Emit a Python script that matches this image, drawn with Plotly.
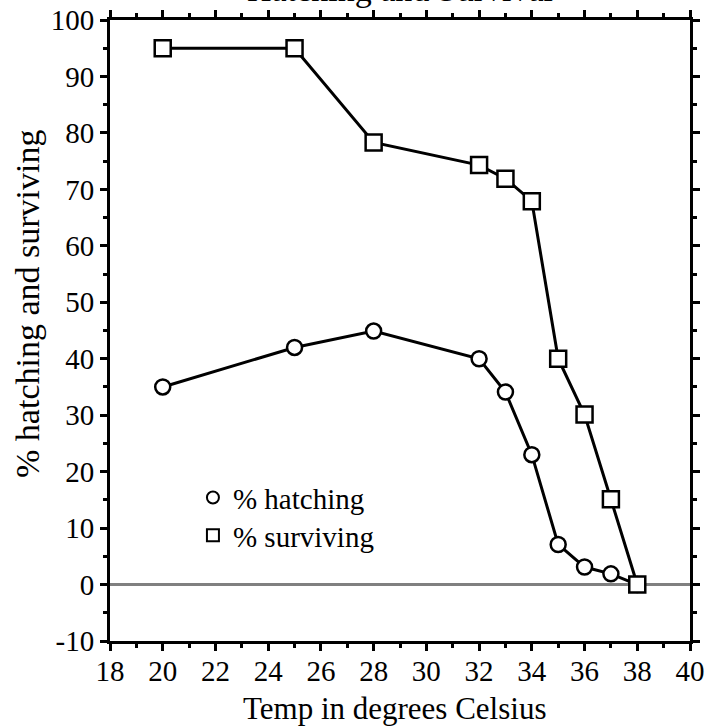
import plotly.graph_objects as go

# Incubation temperature (degrees Celsius)
temps = [20, 25, 28, 32, 33, 34, 35, 36, 37, 38]

# Percentage of eggs hatching at each temperature
pct_hatching = [35.0, 42.0, 44.9, 40.0, 34.1, 23.0, 7.1, 3.1, 1.9, 0.0]

# Percentage of hatchlings surviving at each temperature
pct_surviving = [95.0, 95.0, 78.3, 74.3, 71.9, 67.9, 40.0, 30.1, 15.1, 0.0]

x_ticks = list(range(18, 41, 2))
y_ticks = list(range(-10, 101, 10))

FONT = "Liberation Serif, DejaVu Serif, serif"
BLACK = "#000000"

fig = go.Figure()

# Zero reference line
fig.add_trace(go.Scatter(
    x=[18, 40], y=[0, 0], mode="lines",
    line=dict(color="#808080", width=3),
    showlegend=False, hoverinfo="skip",
))

fig.add_trace(go.Scatter(
    x=temps, y=pct_hatching, mode="lines+markers",
    line=dict(color=BLACK, width=3),
    marker=dict(symbol="circle", size=15, color="white",
                line=dict(color=BLACK, width=2.5)),
    showlegend=False,
))

fig.add_trace(go.Scatter(
    x=temps, y=pct_surviving, mode="lines+markers",
    line=dict(color=BLACK, width=3),
    marker=dict(symbol="square", size=16, color="white",
                line=dict(color=BLACK, width=2.5)),
    showlegend=False,
))

# Legend entries (marker only), one legend box per row
fig.add_trace(go.Scatter(
    x=[None], y=[None], mode="markers", name="% hatching", legend="legend",
    marker=dict(symbol="circle", size=12, color="white",
                line=dict(color=BLACK, width=2)),
))
fig.add_trace(go.Scatter(
    x=[None], y=[None], mode="markers", name="% surviving", legend="legend2",
    marker=dict(symbol="square", size=12, color="white",
                line=dict(color=BLACK, width=2)),
))

axis_common = dict(
    showline=True, linecolor=BLACK, linewidth=3, mirror="allticks",
    ticks="outside", ticklen=7, tickwidth=3, tickcolor=BLACK,
    showgrid=False, zeroline=False,
    tickfont=dict(family=FONT, size=29, color=BLACK),
)

fig.update_xaxes(
    range=[18, 40], tickmode="array", tickvals=x_ticks,
    ticktext=[str(v) for v in x_ticks],
    ticklabelstandoff=-5,
    minor=dict(dtick=1, ticks="outside", ticklen=4, tickwidth=3, tickcolor=BLACK, showgrid=False),
    **axis_common,
)
fig.update_yaxes(
    range=[-10, 100], tickmode="array", tickvals=y_ticks,
    ticktext=[str(v) for v in y_ticks],
    minor=dict(dtick=5, ticks="outside", ticklen=4, tickwidth=3, tickcolor=BLACK, showgrid=False),
    **axis_common,
)

# Axis titles
fig.add_annotation(
    text="Temp in degrees Celsius", xref="paper", yref="paper",
    x=0.49, y=-0.1095, xanchor="center", yanchor="middle", showarrow=False,
    font=dict(family=FONT, size=31, color=BLACK),
)
fig.add_annotation(
    text="% hatching and surviving", xref="paper", yref="paper",
    x=-0.1414, y=0.5427, xanchor="center", yanchor="middle", showarrow=False,
    textangle=-90, font=dict(family=FONT, size=34, color=BLACK),
)

# Chart title
fig.add_annotation(
    text="Hatching and Survival", xref="paper", yref="paper",
    x=0.5, y=1.016, xanchor="center", yanchor="bottom", showarrow=False,
    font=dict(family=FONT, size=34, color=BLACK),
)

legend_common = dict(
    xanchor="left", yanchor="top", bgcolor="rgba(0,0,0,0)", borderwidth=0,
    font=dict(family=FONT, size=29, color=BLACK), itemsizing="trace",
)

fig.update_layout(
    width=718, height=728,
    margin=dict(l=110, r=28, t=20, b=87, autoexpand=False),
    paper_bgcolor="white", plot_bgcolor="white",
    legend=dict(x=0.143, y=0.272, **legend_common),
    legend2=dict(x=0.143, y=0.211, **legend_common),
)

fig.write_html("out.html")
